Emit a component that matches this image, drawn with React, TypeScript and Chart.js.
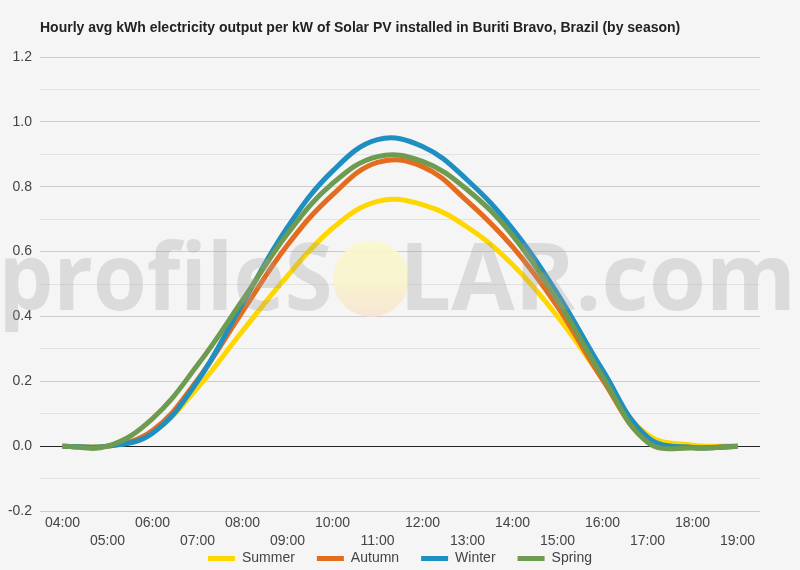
import React, { useEffect, useRef } from 'react';
import { Chart, registerables } from 'chart.js';

Chart.register(...registerables);

const hours = ['04:00', '05:00', '06:00', '07:00', '08:00', '09:00', '10:00', '11:00', '12:00', '13:00', '14:00', '15:00', '16:00', '17:00', '18:00', '19:00'];
const summer = [0, 0, 0.042, 0.18, 0.355, 0.525, 0.672, 0.755, 0.745, 0.675, 0.56, 0.4, 0.21, 0.035, 0.003, 0];
const autumn = [0, 0, 0.048, 0.205, 0.415, 0.62, 0.775, 0.875, 0.862, 0.755, 0.615, 0.43, 0.205, 0.015, -0.004, 0];
const winter = [0, 0, 0.04, 0.2, 0.44, 0.675, 0.848, 0.945, 0.924, 0.82, 0.67, 0.47, 0.235, 0.028, -0.004, 0];
const spring = [0, 0, 0.085, 0.25, 0.45, 0.655, 0.81, 0.893, 0.878, 0.79, 0.65, 0.45, 0.215, 0.012, -0.006, 0];
const seriesNames = ['Summer', 'Autumn', 'Winter', 'Spring'];
const seriesColors = ['#FFD700', '#E36C1E', '#1F8FC1', '#6D9B4F'];
const titleText = 'Hourly avg kWh electricity output per kW of Solar PV installed in Buriti Bravo, Brazil (by season)';
const watermarkLeft = 'profileS';
const watermarkRight = 'LAR.com';

const FONT = 'Arial, "Liberation Sans", sans-serif';

const bgPlugin = {
  id: 'bg',
  beforeDraw(chart: any) {
    const ctx = chart.ctx;
    ctx.save();
    ctx.fillStyle = '#f5f5f5';
    ctx.fillRect(0, 0, chart.width, chart.height);
    ctx.restore();
  },
};

const titlePlugin = {
  id: 'customTitle',
  afterDraw(chart: any) {
    const ctx = chart.ctx;
    ctx.save();
    ctx.font = `bold 14px ${FONT}`;
    ctx.fillStyle = '#222';
    ctx.textAlign = 'left';
    ctx.textBaseline = 'middle';
    ctx.fillText(titleText, chart.chartArea.left, 28);
    ctx.restore();
  },
};

const legendPlugin = {
  id: 'customLegend',
  afterDraw(chart: any) {
    const ctx = chart.ctx;
    ctx.save();
    ctx.font = `14px ${FONT}`;
    const box = 27;
    const gapText = 7;
    const gapItem = 22;
    const ds = chart.data.datasets;
    const widths = ds.map((d: any) => box + gapText + ctx.measureText(d.label).width);
    const total = widths.reduce((a: number, b: number) => a + b, 0) + gapItem * (ds.length - 1);
    let x = chart.width / 2 - total / 2;
    const y = 558.5;
    ds.forEach((d: any, i: number) => {
      ctx.fillStyle = d.borderColor;
      ctx.fillRect(x, y - 2.5, box, 5);
      ctx.fillStyle = '#444';
      ctx.textAlign = 'left';
      ctx.textBaseline = 'middle';
      ctx.fillText(d.label, x + box + gapText, y);
      x += widths[i] + gapItem;
    });
    ctx.restore();
  },
};

const watermarkPlugin = {
  id: 'watermark',
  afterDatasetsDraw(chart: any) {
    const ctx = chart.ctx;
    ctx.save();
    const cx = 371, cy = 279, r = 38;
    const g = ctx.createLinearGradient(0, cy - r, 0, cy + r);
    g.addColorStop(0, 'rgba(250,248,200,0.9)');
    g.addColorStop(0.5, 'rgba(249,244,205,0.9)');
    g.addColorStop(1, 'rgba(247,228,208,0.9)');
    ctx.fillStyle = g;
    ctx.beginPath();
    ctx.arc(cx, cy, r, 0, Math.PI * 2);
    ctx.fill();

    ctx.font = 'bold 94px "Open Sans"';
    ctx.fillStyle = 'rgba(160,160,160,0.3)';
    ctx.textBaseline = 'alphabetic';
    ctx.textAlign = 'left';
    const drawFit = (t: string, x0: number, x1: number, base: number) => {
      const m = ctx.measureText(t);
      const inkW = m.actualBoundingBoxLeft + m.actualBoundingBoxRight;
      const s = (x1 - x0) / inkW;
      ctx.save();
      ctx.translate(x0, base);
      ctx.scale(s, 1);
      ctx.fillText(t, m.actualBoundingBoxLeft, 0);
      ctx.restore();
    };
    drawFit(watermarkLeft, 5, 330, 310);
    drawFit(watermarkRight, 407, 790, 310);
    ctx.restore();
  },
};

export default function App() {
  const ref = useRef<HTMLCanvasElement | null>(null);
  useEffect(() => {
    if (!ref.current) return;
    const series = [summer, autumn, winter, spring];
    const chart = new Chart(ref.current, {
      type: 'line',
      data: {
        labels: hours,
        datasets: series.map((d, i) => ({
          label: seriesNames[i],
          data: d,
          borderColor: seriesColors[i],
          backgroundColor: seriesColors[i],
          borderWidth: 5,
          pointRadius: 0,
          pointHoverRadius: 0,
          tension: 0.4,
          fill: false,
          order: series.length - i,
        })),
      },
      options: {
        responsive: false,
        animation: false,
        layout: { padding: { left: 0, right: 40, top: 57, bottom: 16.6 } },
        plugins: {
          legend: { display: false },
          title: { display: false },
          tooltip: { enabled: false },
        },
        scales: {
          x: {
            offset: true,
            grid: { display: false, drawTicks: false },
            border: { display: false },
            ticks: {
              autoSkip: false,
              maxRotation: 0,
              minRotation: 0,
              padding: 3,
              color: '#444',
              font: { family: FONT, size: 14, lineHeight: 1.3 },
              callback: (_v: any, i: number) => (i % 2 === 0 ? hours[i] : ['', hours[i]]),
            },
          },
          y: {
            min: -0.2,
            max: 1.2,
            border: { display: false },
            grid: {
              drawTicks: false,
              lineWidth: 1,
              color: (c: any) => {
                const v = Math.round(c.tick.value * 10);
                if (v === 0) return '#222';
                return v % 2 === 0 ? '#cccccc' : '#e2e2e2';
              },
            },
            ticks: {
              stepSize: 0.1,
              padding: 8,
              color: '#444',
              font: { family: FONT, size: 14 },
              callback: (v: any) => {
                const n = Math.round(Number(v) * 10);
                return n % 2 === 0 ? (n / 10).toFixed(1) : '';
              },
            },
            afterFit: (s: any) => {
              s.width = 40;
            },
          },
        },
      },
      plugins: [bgPlugin, watermarkPlugin, titlePlugin, legendPlugin],
    } as any);
    return () => chart.destroy();
  }, []);
  return (
    <div style={{ position: 'fixed', left: 0, top: 0, width: 800, height: 570, background: '#f5f5f5' }}>
      <canvas ref={ref} width={800} height={570} style={{ display: 'block' }} />
    </div>
  );
}
